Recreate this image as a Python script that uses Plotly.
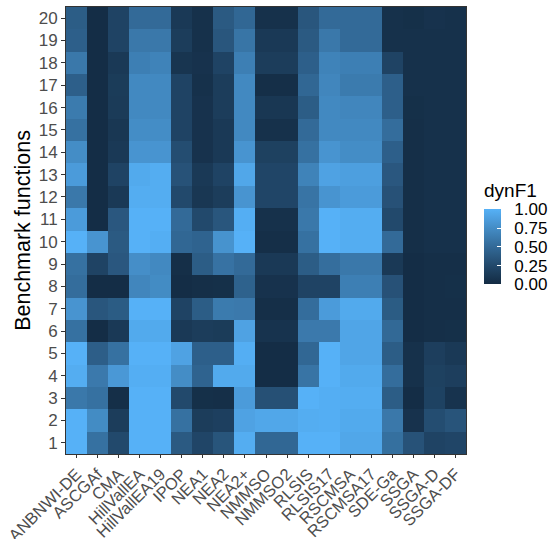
import plotly.graph_objects as go

# ---- data ----
algorithms = ["ANBNWI-DE", "ASCGAf", "CMA", "HillVallEA", "HillVallEA19", "IPOP",
              "NEA1", "NEA2", "NEA2+", "NMMSO", "NMMSO2", "RLSIS", "RLSIS17",
              "RSCMSA", "RSCMSA17", "SDE-Ga", "SSGA", "SSGA-D", "SSGA-DF"]
functions = [str(i) for i in range(1, 21)]
legend_ticks = [0, 0.25, 0.5, 0.75, 1]
legend_labels = ["0.00", "0.25", "0.50", "0.75", "1.00"]

# values per algorithm, benchmark function 1 -> 20
anbnwi_de    = [1.00, 1.00, 0.60, 0.97, 1.00, 0.55, 0.80, 0.52, 0.55, 1.00, 0.85, 0.60, 0.85, 0.75, 0.55, 0.62, 0.42, 0.60, 0.42, 0.40]
ascgaf       = [0.55, 0.74, 0.55, 0.61, 0.41, 0.02, 0.35, 0.02, 0.20, 0.80, 0.02, 0.02, 0.02, 0.02, 0.02, 0.02, 0.02, 0.02, 0.02, 0.02]
cma          = [0.25, 0.15, 0.03, 0.83, 0.55, 0.12, 0.39, 0.02, 0.36, 0.38, 0.36, 0.12, 0.20, 0.12, 0.10, 0.13, 0.14, 0.12, 0.20, 0.20]
hillvallea   = [1.00, 1.00, 1.00, 0.98, 1.00, 0.95, 1.00, 0.70, 0.76, 1.00, 1.00, 0.97, 0.95, 0.80, 0.75, 0.72, 0.72, 0.65, 0.60, 0.50]
hillvallea19 = [1.00, 1.00, 1.00, 0.98, 1.00, 0.95, 1.00, 0.74, 0.72, 0.98, 1.00, 0.97, 0.97, 0.80, 0.75, 0.72, 0.72, 0.68, 0.60, 0.50]
ipop         = [0.38, 0.55, 0.25, 0.75, 0.90, 0.12, 0.20, 0.02, 0.03, 0.48, 0.50, 0.25, 0.32, 0.28, 0.20, 0.20, 0.20, 0.08, 0.15, 0.12]
nea1         = [0.22, 0.15, 0.04, 0.45, 0.42, 0.15, 0.40, 0.03, 0.40, 0.45, 0.25, 0.10, 0.12, 0.06, 0.06, 0.06, 0.05, 0.06, 0.05, 0.05]
nea2         = [0.34, 0.17, 0.03, 0.95, 0.42, 0.14, 0.62, 0.04, 0.56, 0.79, 0.35, 0.15, 0.20, 0.12, 0.12, 0.15, 0.15, 0.20, 0.35, 0.38]
nea2_plus    = [0.97, 0.90, 0.85, 0.95, 0.98, 0.90, 0.61, 0.44, 0.50, 1.00, 0.98, 0.80, 0.93, 0.80, 0.72, 0.72, 0.72, 0.65, 0.58, 0.48]
nmmso        = [0.48, 0.93, 0.30, 0.02, 0.02, 0.07, 0.03, 0.06, 0.12, 0.03, 0.05, 0.22, 0.22, 0.18, 0.05, 0.10, 0.03, 0.15, 0.12, 0.05]
nmmso2       = [0.48, 0.93, 0.30, 0.02, 0.02, 0.07, 0.03, 0.06, 0.12, 0.03, 0.05, 0.22, 0.22, 0.18, 0.05, 0.10, 0.03, 0.15, 0.12, 0.05]
rlsis        = [1.00, 0.97, 1.00, 0.57, 0.48, 0.61, 0.52, 0.20, 0.40, 0.55, 0.60, 0.57, 0.68, 0.55, 0.50, 0.40, 0.48, 0.42, 0.38, 0.35]
rlsis17      = [1.00, 0.98, 0.98, 1.00, 1.00, 0.61, 0.85, 0.20, 0.53, 1.00, 1.00, 0.80, 0.90, 0.80, 0.72, 0.72, 0.70, 0.68, 0.60, 0.50]
rscmsa       = [0.93, 0.95, 0.97, 0.95, 0.92, 0.92, 0.95, 0.65, 0.60, 0.97, 0.97, 0.85, 0.88, 0.75, 0.72, 0.70, 0.62, 0.65, 0.50, 0.50]
rscmsa17     = [0.93, 0.95, 0.97, 0.95, 0.92, 0.92, 0.95, 0.65, 0.60, 0.97, 0.97, 0.85, 0.88, 0.75, 0.72, 0.70, 0.62, 0.65, 0.50, 0.50]
sde_ga       = [0.54, 0.60, 0.40, 0.52, 0.40, 0.49, 0.39, 0.31, 0.12, 0.50, 0.25, 0.31, 0.36, 0.42, 0.52, 0.42, 0.42, 0.20, 0.05, 0.05]
ssga         = [0.32, 0.06, 0.02, 0.05, 0.05, 0.02, 0.02, 0.02, 0.02, 0.03, 0.03, 0.03, 0.03, 0.03, 0.03, 0.04, 0.05, 0.05, 0.05, 0.04]
ssga_d       = [0.20, 0.28, 0.19, 0.18, 0.16, 0.03, 0.03, 0.03, 0.03, 0.05, 0.05, 0.05, 0.05, 0.05, 0.05, 0.05, 0.05, 0.05, 0.05, 0.06]
ssga_df      = [0.22, 0.33, 0.07, 0.16, 0.12, 0.04, 0.03, 0.04, 0.03, 0.05, 0.05, 0.05, 0.05, 0.05, 0.05, 0.05, 0.05, 0.05, 0.05, 0.05]

columns = [anbnwi_de, ascgaf, cma, hillvallea, hillvallea19, ipop, nea1, nea2, nea2_plus,
           nmmso, nmmso2, rlsis, rlsis17, rscmsa, rscmsa17, sde_ga, ssga, ssga_d, ssga_df]
z = [[col[r] for col in columns] for r in range(len(functions))]


# ---- ggplot2 default gradient (#132B43 -> #56B1F7, interpolated in Lab) ----
def hex_to_rgb(h):
    h = h.lstrip("#")
    return [int(h[i:i + 2], 16) / 255 for i in (0, 2, 4)]


def lin(c):
    return c / 12.92 if c <= 0.04045 else ((c + 0.055) / 1.055) ** 2.4


def delin(c):
    c = max(0.0, min(1.0, c))
    return 12.92 * c if c <= 0.0031308 else 1.055 * c ** (1 / 2.4) - 0.055


WHITE = (0.95047, 1.0, 1.08883)


def rgb_to_lab(rgb):
    r, g, b = [lin(c) for c in rgb]
    x = 0.4124564 * r + 0.3575761 * g + 0.1804375 * b
    y = 0.2126729 * r + 0.7151522 * g + 0.0721750 * b
    zz = 0.0193339 * r + 0.1191920 * g + 0.9503041 * b

    def f(t):
        return t ** (1 / 3) if t > 216 / 24389 else (24389 / 27 * t + 16) / 116

    fx, fy, fz = f(x / WHITE[0]), f(y / WHITE[1]), f(zz / WHITE[2])
    return (116 * fy - 16, 500 * (fx - fy), 200 * (fy - fz))


def lab_to_rgb(lab):
    L, a, b = lab
    fy = (L + 16) / 116
    fx = fy + a / 500
    fz = fy - b / 200

    def finv(t):
        return t ** 3 if t ** 3 > 216 / 24389 else (116 * t - 16) / (24389 / 27)

    x, y, zz = finv(fx) * WHITE[0], finv(fy) * WHITE[1], finv(fz) * WHITE[2]
    r = 3.2404542 * x - 1.5371385 * y - 0.4985314 * zz
    g = -0.9692660 * x + 1.8760108 * y + 0.0415560 * zz
    bb = 0.0556434 * x - 0.2040259 * y + 1.0572252 * zz
    return "rgb(%d,%d,%d)" % tuple(round(delin(c) * 255) for c in (r, g, bb))


lab_lo = rgb_to_lab(hex_to_rgb("#132B43"))
lab_hi = rgb_to_lab(hex_to_rgb("#56B1F7"))
n = 21
colorscale = []
for i in range(n):
    t = i / (n - 1)
    lab = tuple(lo + (hi - lo) * t for lo, hi in zip(lab_lo, lab_hi))
    colorscale.append([t, lab_to_rgb(lab)])

W, H = 551, 539
ML, MR, MT, MB = 66, 85, 7, 85
PW, PH = W - ML - MR, H - MT - MB
FONT = "Liberation Sans"
NB = "\u00a0\u00a0"


def px_x(px):
    return (px - ML) / PW


def px_y(py):
    return (H - MB - py) / PH


fig = go.Figure(go.Heatmap(
    x=algorithms, y=functions, z=z,
    zmin=0, zmax=1, colorscale=colorscale,
    hoverinfo="skip",
    colorbar=dict(
        thickness=17, len=75, lenmode="pixels",
        x=px_x(484), xanchor="left",
        y=px_y(246.8), yanchor="middle",
        tickvals=legend_ticks,
        ticktext=[NB + s for s in legend_labels],
        ticks="inside", ticklen=4, tickcolor="white", tickwidth=1,
        tickfont=dict(size=17, color="black", family=FONT),
        outlinewidth=0, xpad=0, ypad=0,
    ),
))

fig.add_annotation(
    text="dynF1", xref="paper", yref="paper",
    x=px_x(482), xanchor="left",
    y=px_y(190.5), yanchor="middle",
    showarrow=False, font=dict(size=19, color="black", family=FONT),
)

fig.update_layout(
    width=W, height=H,
    margin=dict(l=ML, r=MR, t=MT, b=MB, autoexpand=False),
    paper_bgcolor="white", plot_bgcolor="white",
    font=dict(family=FONT),
)
fig.update_xaxes(
    type="category", tickangle=-45, automargin=False,
    tickfont=dict(size=16.5, color="#4D4D4D", family=FONT),
    ticks="outside", ticklen=3, tickcolor="#333333",
    showline=True, mirror=True, linecolor="#333333", linewidth=1,
    showgrid=False, zeroline=False,
)
fig.update_yaxes(
    type="category", categoryorder="array", categoryarray=functions, automargin=False,
    tickfont=dict(size=17, color="#4D4D4D", family=FONT),
    ticks="outside", ticklen=4, tickcolor="#333333",
    showline=True, mirror=True, linecolor="#333333", linewidth=1,
    showgrid=False, zeroline=False,
    title=dict(text="Benchmark functions", font=dict(size=21.5, color="black", family=FONT), standoff=2),
)

fig.write_html("out.html")
